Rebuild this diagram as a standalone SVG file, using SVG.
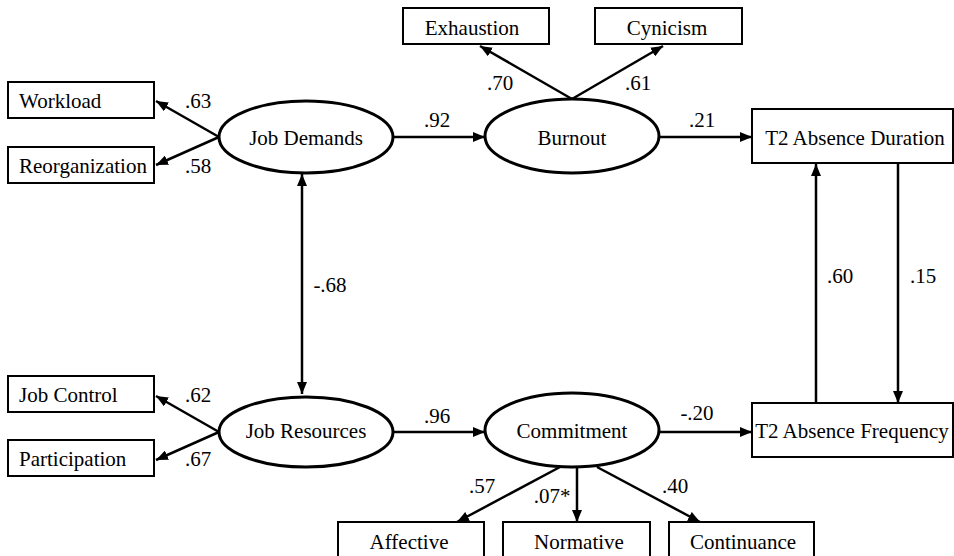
<svg xmlns="http://www.w3.org/2000/svg" width="954" height="556" viewBox="0 0 954 556">
<defs>
<marker id="ah" viewBox="0 0 12 10" refX="12" refY="5" markerWidth="12" markerHeight="10" markerUnits="userSpaceOnUse" orient="auto-start-reverse">
<path d="M0,0 L12,5 L0,10 Z" fill="#000"/>
</marker>
<style>
text{font-size:21px;fill:#000}
.c{text-anchor:middle}
.box{fill:#fff;stroke:#000;stroke-width:2}
.ell{fill:#fff;stroke:#000;stroke-width:3}
.ln{fill:none;stroke:#000;stroke-width:2.5}
</style>
</defs>
<rect width="954" height="556" fill="#fff"/>
<g font-family="Liberation Serif, Times New Roman, serif">
<g id="connectors">
<line class="ln" x1="219" y1="137" x2="156" y2="101" marker-end="url(#ah)"/>
<line class="ln" x1="219" y1="137" x2="156" y2="165" marker-end="url(#ah)"/>
<line class="ln" x1="393" y1="137" x2="485" y2="137" marker-end="url(#ah)"/>
<line class="ln" x1="572" y1="99" x2="480" y2="46" marker-end="url(#ah)"/>
<line class="ln" x1="572" y1="99" x2="663" y2="46" marker-end="url(#ah)"/>
<line class="ln" x1="660" y1="137" x2="752" y2="137" marker-end="url(#ah)"/>
<line class="ln" x1="302" y1="174" x2="302" y2="394" marker-start="url(#ah)" marker-end="url(#ah)"/>
<line class="ln" x1="219" y1="432" x2="156" y2="396" marker-end="url(#ah)"/>
<line class="ln" x1="219" y1="432" x2="156" y2="460" marker-end="url(#ah)"/>
<line class="ln" x1="393" y1="432" x2="485" y2="432" marker-end="url(#ah)"/>
<line class="ln" x1="660" y1="432" x2="752" y2="432" marker-end="url(#ah)"/>
<line class="ln" x1="816" y1="403" x2="816" y2="164" marker-end="url(#ah)"/>
<line class="ln" x1="898" y1="164" x2="898" y2="403" marker-end="url(#ah)"/>
<line class="ln" x1="560" y1="467" x2="457" y2="522" marker-end="url(#ah)"/>
<line class="ln" x1="577" y1="467" x2="577" y2="522" marker-end="url(#ah)"/>
<line class="ln" x1="597" y1="467" x2="700" y2="522" marker-end="url(#ah)"/>
<text class="c" x="198" y="108">.63</text>
<text class="c" x="198" y="173">.58</text>
<text class="c" x="437" y="127">.92</text>
<text class="c" x="500" y="90">.70</text>
<text class="c" x="638" y="90">.61</text>
<text class="c" x="702" y="127">.21</text>
<text class="c" x="330" y="292">-.68</text>
<text class="c" x="840" y="283">.60</text>
<text class="c" x="923" y="283">.15</text>
<text class="c" x="198" y="402">.62</text>
<text class="c" x="198" y="466">.67</text>
<text class="c" x="437" y="423">.96</text>
<text class="c" x="697" y="420">-.20</text>
<text class="c" x="482" y="493">.57</text>
<text class="c" x="552" y="503">.07*</text>
<text class="c" x="675" y="493">.40</text>
</g>
<g id="workload"><rect class="box" x="8" y="82" width="146" height="36"/><text x="19" y="108">Workload</text></g>
<g id="reorganization"><rect class="box" x="8" y="147" width="146" height="36"/><text x="19" y="173">Reorganization</text></g>
<g id="job-demands"><ellipse class="ell" cx="306" cy="137" rx="87" ry="36"/><text class="c" x="306" y="145">Job Demands</text></g>
<g id="exhaustion"><rect class="box" x="403" y="8" width="146" height="36"/><text class="c" x="472" y="35">Exhaustion</text></g>
<g id="cynicism"><rect class="box" x="595" y="8" width="147" height="36"/><text class="c" x="667" y="35">Cynicism</text></g>
<g id="burnout"><ellipse class="ell" cx="572" cy="136" rx="87" ry="37"/><text class="c" x="572" y="145">Burnout</text></g>
<g id="t2-duration"><rect class="box" x="752" y="109" width="201" height="54"/><text class="c" x="855" y="145">T2 Absence Duration</text></g>
<g id="job-control"><rect class="box" x="8" y="376" width="146" height="36"/><text x="19" y="402">Job Control</text></g>
<g id="participation"><rect class="box" x="8" y="440" width="146" height="36"/><text x="19" y="466">Participation</text></g>
<g id="job-resources"><ellipse class="ell" cx="306" cy="432" rx="87" ry="35"/><text class="c" x="306" y="438">Job Resources</text></g>
<g id="commitment"><ellipse class="ell" cx="572" cy="430" rx="87" ry="37"/><text class="c" x="572" y="438">Commitment</text></g>
<g id="t2-frequency"><rect class="box" x="752" y="403" width="201" height="54"/><text class="c" x="852" y="438">T2 Absence Frequency</text></g>
<g id="affective"><rect class="box" x="338" y="522" width="146" height="44"/><text class="c" x="409" y="549">Affective</text></g>
<g id="normative"><rect class="box" x="503" y="522" width="147" height="44"/><text class="c" x="579" y="549">Normative</text></g>
<g id="continuance"><rect class="box" x="669" y="522" width="145" height="44"/><text class="c" x="743" y="549">Continuance</text></g>
</g>
</svg>
